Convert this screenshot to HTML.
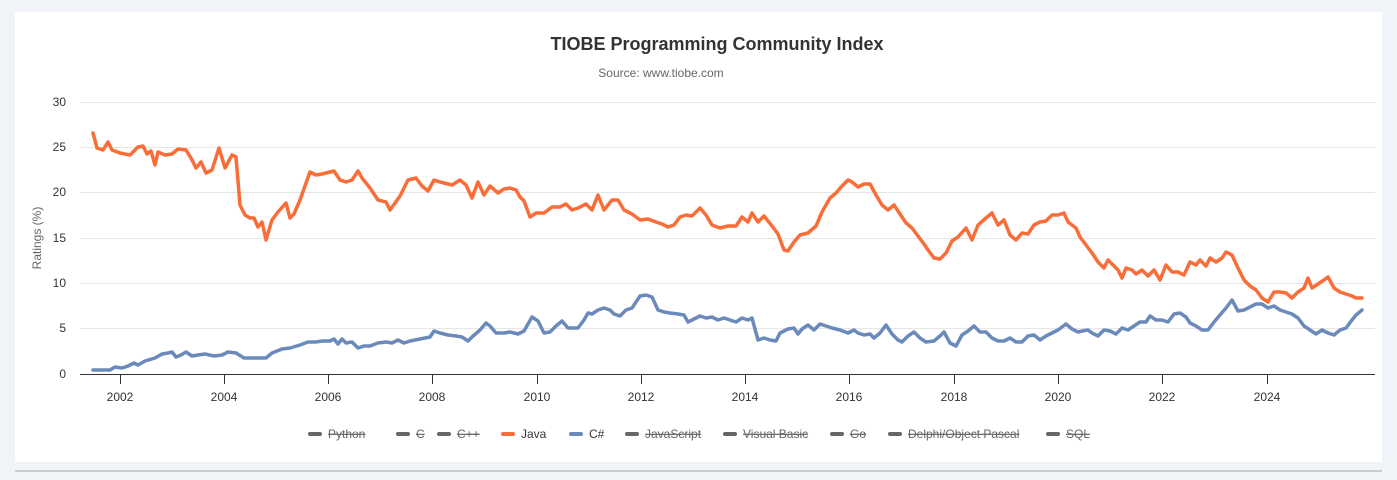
<!DOCTYPE html>
<html><head><meta charset="utf-8"><style>
html,body{margin:0;padding:0;background:#f0f4f8;width:1397px;height:480px;overflow:hidden;font-family:"Liberation Sans",sans-serif;}
</style></head><body>
<svg width="1397" height="480" xmlns="http://www.w3.org/2000/svg" style="position:absolute;left:0;top:0">
<rect x="15" y="12" width="1367" height="450" fill="#fff"/>
<line x1="15" y1="471" x2="1382" y2="471" stroke="#a0a4a8" stroke-width="1"/>
<text x="717" y="50" text-anchor="middle" font-size="18" font-weight="bold" fill="#333">TIOBE Programming Community Index</text>
<text x="661" y="77" text-anchor="middle" font-size="12" fill="#666">Source: www.tiobe.com</text>
<g stroke="#e6e6e6" stroke-width="1">
<line x1="80" y1="102.5" x2="1375" y2="102.5"/><line x1="80" y1="147.5" x2="1375" y2="147.5"/>
<line x1="80" y1="192.5" x2="1375" y2="192.5"/><line x1="80" y1="238.5" x2="1375" y2="238.5"/>
<line x1="80" y1="283.5" x2="1375" y2="283.5"/><line x1="80" y1="328.5" x2="1375" y2="328.5"/>
</g>
<g font-size="12" fill="#333" text-anchor="end">
<text x="66" y="106">30</text><text x="66" y="151">25</text><text x="66" y="196">20</text>
<text x="66" y="242">15</text><text x="66" y="287">10</text><text x="66" y="332">5</text><text x="66" y="378">0</text>
</g>
<text transform="translate(41,238) rotate(-90)" text-anchor="middle" font-size="12" fill="#666">Ratings (%)</text>
<line x1="80" y1="374.5" x2="1375" y2="374.5" stroke="#333" stroke-width="1"/>
<g stroke="#333" stroke-width="1">
<line x1="120.5" y1="374" x2="120.5" y2="384"/><line x1="224.5" y1="374" x2="224.5" y2="384"/>
<line x1="328.5" y1="374" x2="328.5" y2="384"/><line x1="432.5" y1="374" x2="432.5" y2="384"/>
<line x1="537.5" y1="374" x2="537.5" y2="384"/><line x1="641.5" y1="374" x2="641.5" y2="384"/>
<line x1="745.5" y1="374" x2="745.5" y2="384"/><line x1="849.5" y1="374" x2="849.5" y2="384"/>
<line x1="954.5" y1="374" x2="954.5" y2="384"/><line x1="1058.5" y1="374" x2="1058.5" y2="384"/>
<line x1="1162.5" y1="374" x2="1162.5" y2="384"/><line x1="1267.5" y1="374" x2="1267.5" y2="384"/>
</g>
<g font-size="12" fill="#333" text-anchor="middle">
<text x="120" y="401">2002</text><text x="224" y="401">2004</text><text x="328" y="401">2006</text>
<text x="432" y="401">2008</text><text x="537" y="401">2010</text><text x="641" y="401">2012</text>
<text x="745" y="401">2014</text><text x="849" y="401">2016</text><text x="954" y="401">2018</text>
<text x="1058" y="401">2020</text><text x="1162" y="401">2022</text><text x="1267" y="401">2024</text>
</g>
<polyline fill="none" stroke="#f96d38" stroke-width="3.5" stroke-linejoin="round" stroke-linecap="round" points="93,133 97,148 103,150 108,142 112,150 120,153 130,155 138,147 143,146 147,154 151,151 155,165 158,152 165,155 172,154 178,149 186,150 191,158 196,168 201,162 206,173 212,170 219,148 225,168 232,155 236,157 240,205 245,215 250,218 254,218 258,227 262,222 266,240 272,220 278,212 286,203 290,218 294,214 300,200 310,172 316,175 322,174 334,171 340,180 346,182 352,180 358,171 362,178 370,188 378,200 386,202 390,210 400,196 408,180 416,178 422,186 428,191 434,180 440,182 452,185 460,180 466,185 472,198 478,182 484,195 490,186 498,193 504,189 510,188 516,190 520,197 524,201 530,217 536,213 544,213 552,207 560,207 566,204 572,210 578,208 586,204 592,210 598,195 604,210 612,200 618,200 624,210 632,214 640,220 648,219 656,222 662,224 668,227 674,225 680,217 686,215 692,216 700,208 706,215 712,225 720,228 728,226 736,226 742,217 748,222 752,213 758,222 764,216 772,226 778,234 784,250 788,251 794,242 800,235 808,233 816,226 822,212 830,198 836,193 842,186 848,180 852,182 858,187 864,184 870,184 876,195 882,205 888,210 894,205 900,214 906,223 912,228 918,236 924,244 928,250 934,258 940,259 946,253 952,241 958,237 966,228 972,240 978,225 986,218 992,213 998,225 1004,220 1010,235 1016,240 1022,233 1028,234 1034,225 1040,222 1046,221 1052,215 1058,215 1064,213 1068,222 1072,225 1076,228 1080,237 1086,245 1092,253 1098,262 1104,268 1108,260 1112,264 1118,270 1122,278 1126,268 1132,270 1136,274 1142,270 1148,276 1154,270 1160,280 1166,265 1172,272 1178,272 1184,275 1190,262 1196,265 1200,260 1206,266 1210,258 1216,262 1222,258 1226,252 1232,255 1238,268 1244,280 1250,286 1256,290 1262,298 1268,302 1274,292 1280,292 1286,293 1292,298 1298,292 1304,288 1308,278 1312,288 1318,284 1324,280 1328,277 1334,288 1340,292 1346,294 1352,296 1356,298 1362,298"/>
<polyline fill="none" stroke="#6b8abc" stroke-width="3.5" stroke-linejoin="round" stroke-linecap="round" points="93,370 100,370 110,370 115,367 122,368 128,366 134,363 138,365 145,361 155,358 162,354 168,353 172,352 176,357 181,355 186,352 192,356 198,355 205,354 214,356 222,355 228,352 236,353 244,358 256,358 266,358 272,353 282,349 290,348 300,345 308,342 316,342 322,341 330,341 334,339 338,344 342,339 346,343 352,342 358,348 364,346 370,346 378,343 386,342 392,343 398,340 404,343 410,341 420,339 430,337 434,331 440,333 448,335 456,336 462,337 468,341 472,337 480,330 486,323 490,326 496,333 504,333 510,332 518,334 524,331 532,317 538,321 544,333 550,332 556,326 562,321 568,328 578,328 584,320 588,313 592,314 598,310 604,308 610,310 614,314 620,316 626,310 632,308 640,296 646,295 652,297 658,310 664,312 670,313 678,314 684,315 688,322 694,319 700,316 706,318 712,317 718,320 724,318 730,320 736,322 742,318 748,320 752,318 758,340 764,338 770,340 776,341 780,333 788,329 794,328 798,334 802,329 808,325 814,330 820,324 826,326 832,328 840,330 848,333 854,330 858,333 864,335 870,334 874,338 880,333 886,325 892,334 898,340 902,342 908,336 914,332 920,338 926,342 934,341 940,336 944,332 950,343 956,346 962,335 968,331 974,326 980,332 986,332 992,338 998,341 1004,341 1010,338 1016,342 1022,342 1028,336 1034,335 1040,340 1046,336 1052,333 1058,330 1066,324 1072,329 1078,332 1082,331 1088,330 1092,333 1098,336 1104,330 1110,331 1116,334 1122,328 1128,330 1134,326 1140,322 1146,322 1150,316 1156,320 1162,320 1168,322 1174,314 1180,313 1186,317 1190,323 1196,326 1202,330 1208,330 1214,322 1220,315 1226,308 1232,300 1238,311 1244,310 1250,307 1256,304 1262,304 1268,308 1274,306 1280,310 1286,312 1292,314 1298,318 1304,326 1310,330 1316,334 1322,330 1328,333 1334,335 1340,330 1346,328 1352,320 1356,315 1362,310"/>
<g stroke-width="4" stroke-linecap="round">
<line x1="310" y1="434" x2="320" y2="434" stroke="#666"/>
<line x1="398" y1="434" x2="408" y2="434" stroke="#666"/>
<line x1="439" y1="434" x2="449" y2="434" stroke="#666"/>
<line x1="503" y1="434" x2="513" y2="434" stroke="#f96d38"/>
<line x1="571" y1="434" x2="581" y2="434" stroke="#6b8abc"/>
<line x1="627" y1="434" x2="637" y2="434" stroke="#666"/>
<line x1="725" y1="434" x2="735" y2="434" stroke="#666"/>
<line x1="832" y1="434" x2="842" y2="434" stroke="#666"/>
<line x1="890" y1="434" x2="900" y2="434" stroke="#666"/>
<line x1="1048" y1="434" x2="1058" y2="434" stroke="#666"/>
</g>
<g font-size="12" fill="#666" text-decoration="line-through">
<text x="328" y="438">Python</text><text x="416" y="438">C</text><text x="457" y="438">C++</text>
<text x="645" y="438">JavaScript</text><text x="743" y="438">Visual Basic</text><text x="850" y="438">Go</text>
<text x="908" y="438">Delphi/Object Pascal</text><text x="1066" y="438">SQL</text>
</g>
<g font-size="12" fill="#333">
<text x="521" y="438">Java</text><text x="589" y="438">C#</text>
</g>
</svg>
</body></html>
